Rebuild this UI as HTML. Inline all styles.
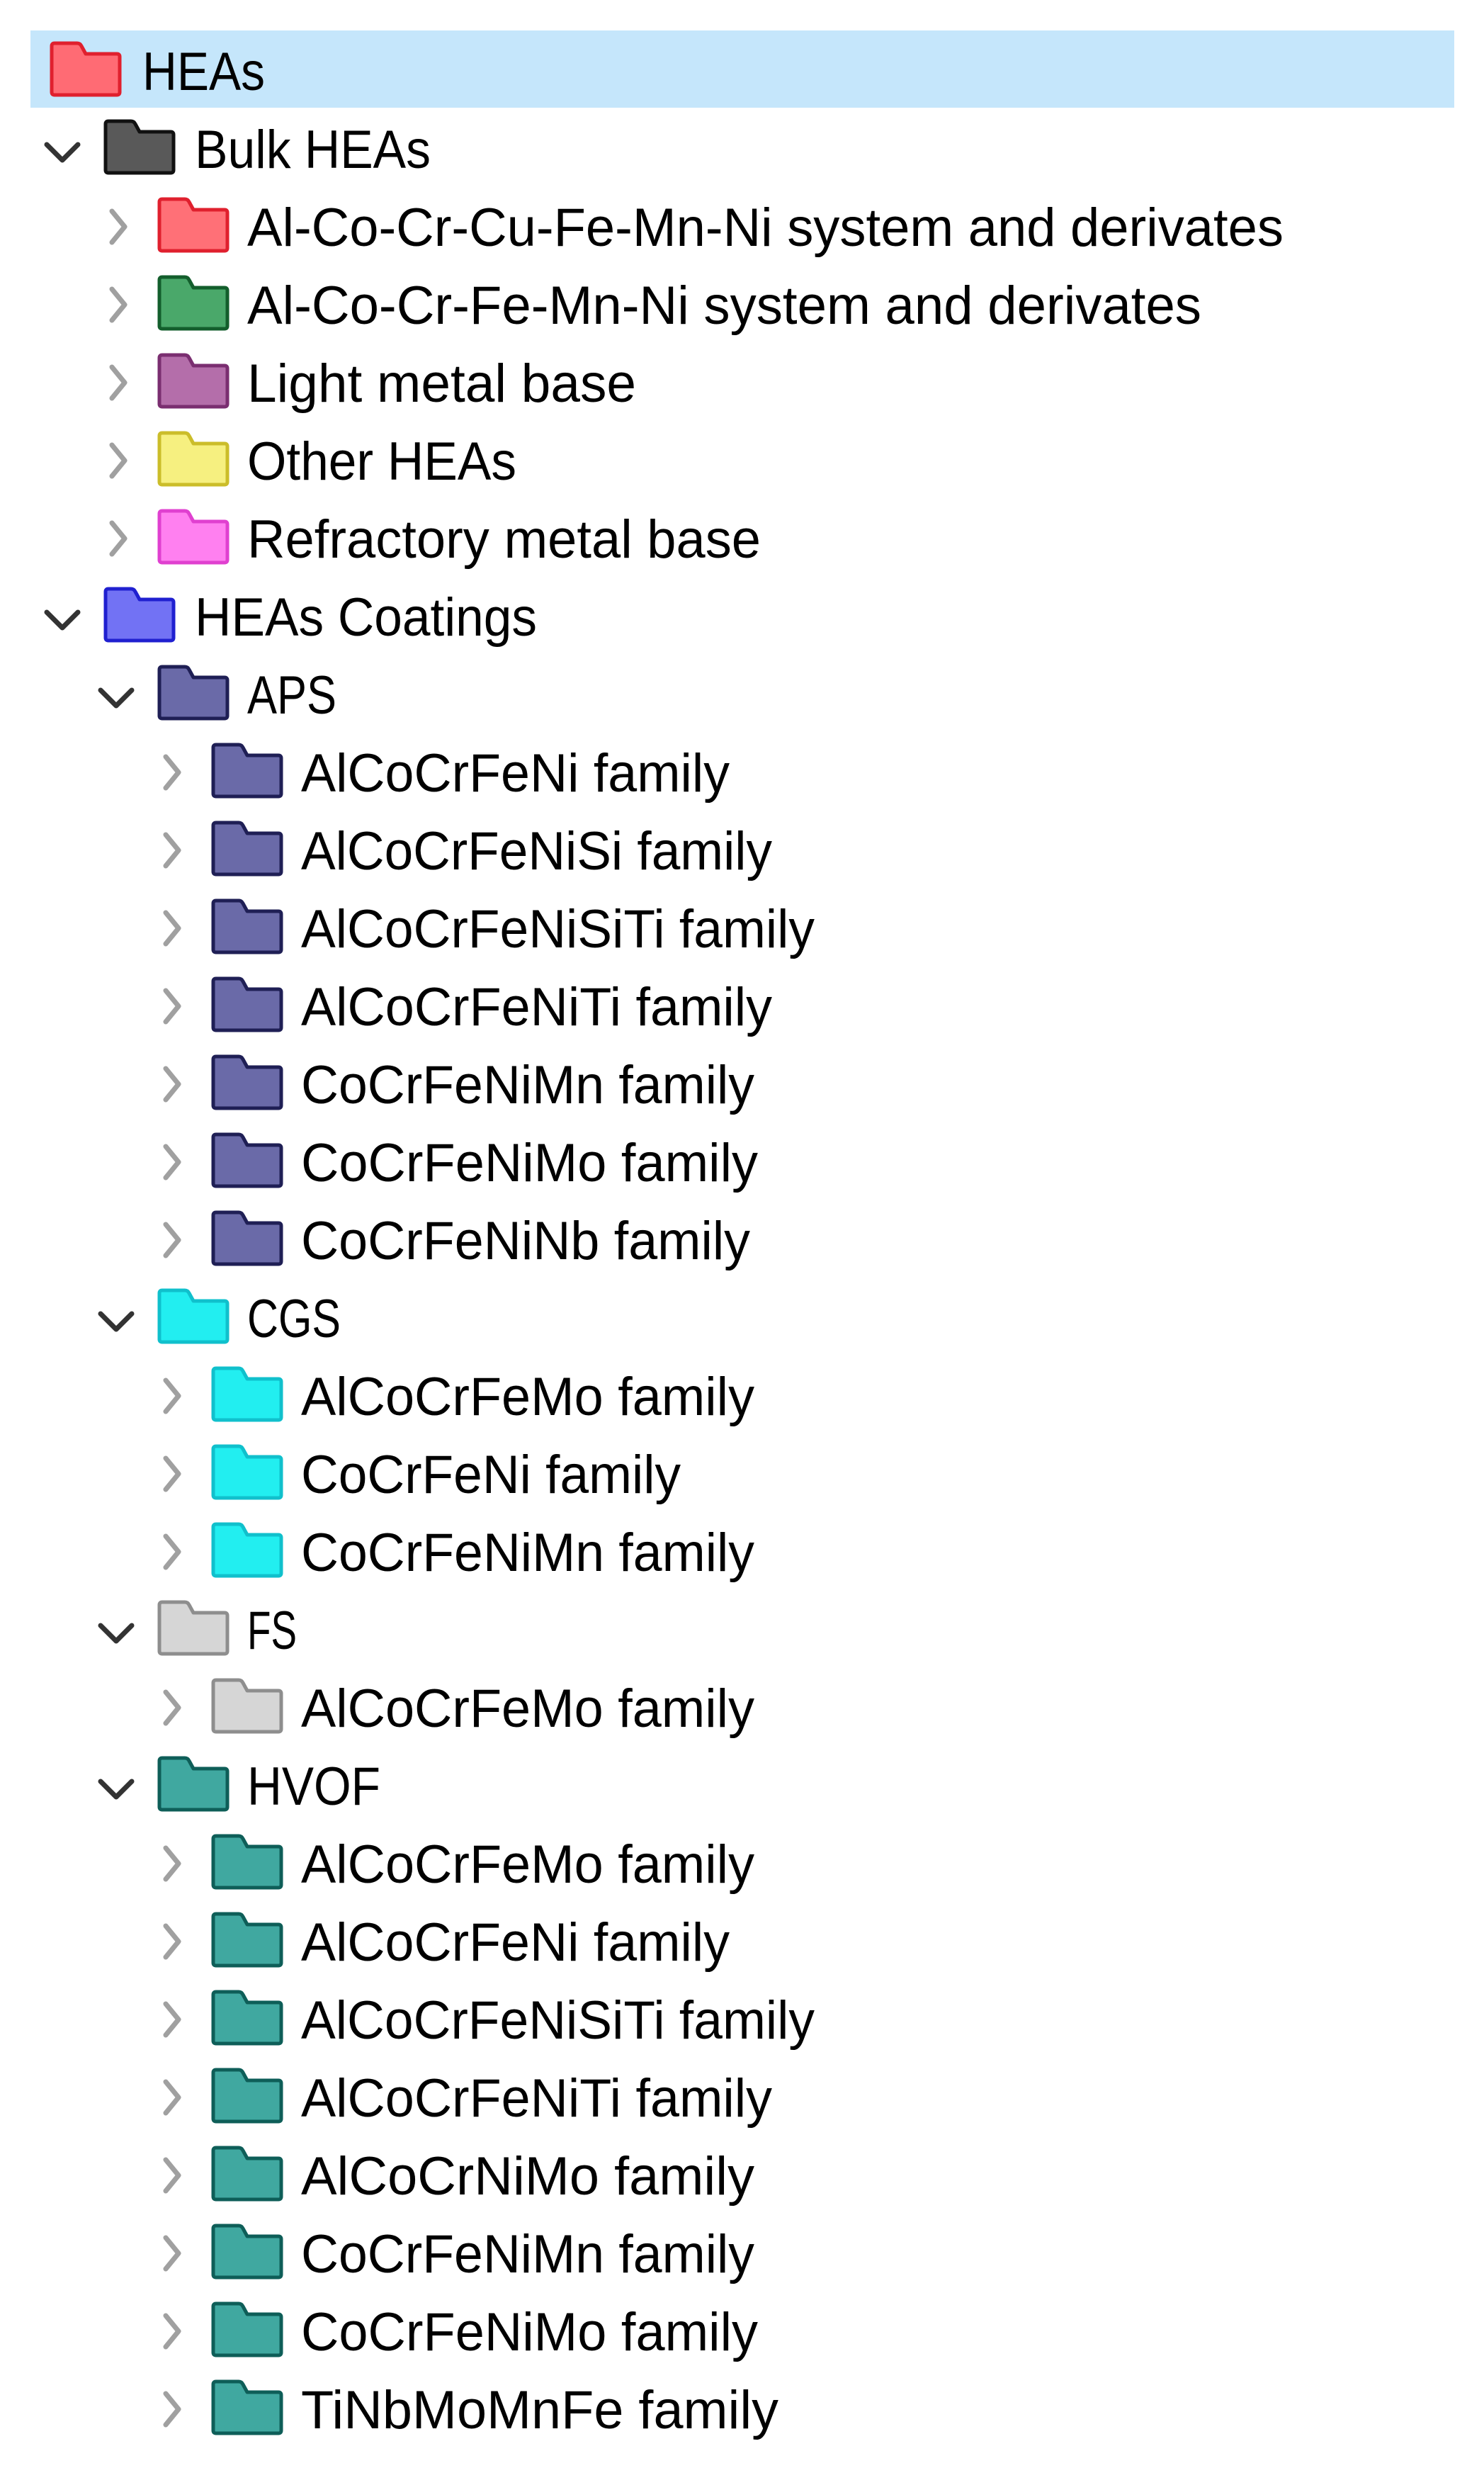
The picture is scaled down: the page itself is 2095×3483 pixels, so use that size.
<!DOCTYPE html>
<html><head><meta charset="utf-8"><style>html,body{margin:0;padding:0;background:#fff}svg{display:block}text{font-family:"Liberation Sans",sans-serif;font-size:76px;fill:#000}</style></head><body>
<svg width="2095" height="3483" viewBox="0 0 2095 3483" xmlns="http://www.w3.org/2000/svg">
<defs>
<path id="f" d="M6,2 H38 Q42,2 44,6 L50,17 H94 Q98,17 98,21 V71 Q98,75 94,75 H6 Q2,75 2,71 V6 Q2,2 6,2 Z" stroke-width="5" stroke-linejoin="round"/>
</defs>
<rect x="43" y="43" width="2010" height="109" fill="#c5e6fb"/>
<g fill="none" stroke="#333" stroke-width="7" stroke-linecap="round" stroke-linejoin="round">
<polyline points="66,204 88,226 110,204"/>
<polyline points="66,864 88,886 110,864"/>
<polyline points="142,974 164,996 186,974"/>
<polyline points="142,1854 164,1876 186,1854"/>
<polyline points="142,2294 164,2316 186,2294"/>
<polyline points="142,2514 164,2536 186,2514"/>
</g>
<g fill="none" stroke="#a0a0a0" stroke-width="7" stroke-linecap="round" stroke-linejoin="round">
<polyline points="158,298 176,320 158,342"/>
<polyline points="158,408 176,430 158,452"/>
<polyline points="158,518 176,540 158,562"/>
<polyline points="158,628 176,650 158,672"/>
<polyline points="158,738 176,760 158,782"/>
<polyline points="234,1068 252,1090 234,1112"/>
<polyline points="234,1178 252,1200 234,1222"/>
<polyline points="234,1288 252,1310 234,1332"/>
<polyline points="234,1398 252,1420 234,1442"/>
<polyline points="234,1508 252,1530 234,1552"/>
<polyline points="234,1618 252,1640 234,1662"/>
<polyline points="234,1728 252,1750 234,1772"/>
<polyline points="234,1948 252,1970 234,1992"/>
<polyline points="234,2058 252,2080 234,2102"/>
<polyline points="234,2168 252,2190 234,2212"/>
<polyline points="234,2388 252,2410 234,2432"/>
<polyline points="234,2608 252,2630 234,2652"/>
<polyline points="234,2718 252,2740 234,2762"/>
<polyline points="234,2828 252,2850 234,2872"/>
<polyline points="234,2938 252,2960 234,2982"/>
<polyline points="234,3048 252,3070 234,3092"/>
<polyline points="234,3158 252,3180 234,3202"/>
<polyline points="234,3268 252,3290 234,3312"/>
<polyline points="234,3378 252,3400 234,3422"/>
</g>
<use href="#f" x="71" y="59" fill="#ff6b74" stroke="#e0202e"/>
<use href="#f" x="147" y="169" fill="#595959" stroke="#111"/>
<use href="#f" x="223" y="279" fill="#ff7077" stroke="#e0202e"/>
<use href="#f" x="223" y="389" fill="#4aa86a" stroke="#135e2c"/>
<use href="#f" x="223" y="499" fill="#b46eaa" stroke="#7a2e70"/>
<use href="#f" x="223" y="609" fill="#f6f080" stroke="#cbbd2a"/>
<use href="#f" x="223" y="719" fill="#ff80f0" stroke="#e040d0"/>
<use href="#f" x="147" y="829" fill="#7272f4" stroke="#2020d0"/>
<use href="#f" x="223" y="939" fill="#6a6aa8" stroke="#1f1f55"/>
<use href="#f" x="299" y="1049" fill="#6a6aa8" stroke="#1f1f55"/>
<use href="#f" x="299" y="1159" fill="#6a6aa8" stroke="#1f1f55"/>
<use href="#f" x="299" y="1269" fill="#6a6aa8" stroke="#1f1f55"/>
<use href="#f" x="299" y="1379" fill="#6a6aa8" stroke="#1f1f55"/>
<use href="#f" x="299" y="1489" fill="#6a6aa8" stroke="#1f1f55"/>
<use href="#f" x="299" y="1599" fill="#6a6aa8" stroke="#1f1f55"/>
<use href="#f" x="299" y="1709" fill="#6a6aa8" stroke="#1f1f55"/>
<use href="#f" x="223" y="1819" fill="#22eef0" stroke="#10c0cc"/>
<use href="#f" x="299" y="1929" fill="#22eef0" stroke="#10c0cc"/>
<use href="#f" x="299" y="2039" fill="#22eef0" stroke="#10c0cc"/>
<use href="#f" x="299" y="2149" fill="#22eef0" stroke="#10c0cc"/>
<use href="#f" x="223" y="2259" fill="#d6d6d6" stroke="#8e8e8e"/>
<use href="#f" x="299" y="2369" fill="#d6d6d6" stroke="#8e8e8e"/>
<use href="#f" x="223" y="2479" fill="#40a8a0" stroke="#0e5e58"/>
<use href="#f" x="299" y="2589" fill="#40a8a0" stroke="#0e5e58"/>
<use href="#f" x="299" y="2699" fill="#40a8a0" stroke="#0e5e58"/>
<use href="#f" x="299" y="2809" fill="#40a8a0" stroke="#0e5e58"/>
<use href="#f" x="299" y="2919" fill="#40a8a0" stroke="#0e5e58"/>
<use href="#f" x="299" y="3029" fill="#40a8a0" stroke="#0e5e58"/>
<use href="#f" x="299" y="3139" fill="#40a8a0" stroke="#0e5e58"/>
<use href="#f" x="299" y="3249" fill="#40a8a0" stroke="#0e5e58"/>
<use href="#f" x="299" y="3359" fill="#40a8a0" stroke="#0e5e58"/>
<g>
<text x="201" y="127" textLength="173" lengthAdjust="spacingAndGlyphs">HEAs</text>
<text x="275" y="237" textLength="333" lengthAdjust="spacingAndGlyphs">Bulk HEAs</text>
<text x="349" y="347" textLength="1463" lengthAdjust="spacingAndGlyphs">Al-Co-Cr-Cu-Fe-Mn-Ni system and derivates</text>
<text x="349" y="457" textLength="1347" lengthAdjust="spacingAndGlyphs">Al-Co-Cr-Fe-Mn-Ni system and derivates</text>
<text x="349" y="567" textLength="549" lengthAdjust="spacingAndGlyphs">Light metal base</text>
<text x="349" y="677" textLength="380" lengthAdjust="spacingAndGlyphs">Other HEAs</text>
<text x="349" y="787" textLength="725" lengthAdjust="spacingAndGlyphs">Refractory metal base</text>
<text x="275" y="897" textLength="483" lengthAdjust="spacingAndGlyphs">HEAs Coatings</text>
<text x="349" y="1007" textLength="126" lengthAdjust="spacingAndGlyphs">APS</text>
<text x="425" y="1117" textLength="605" lengthAdjust="spacingAndGlyphs">AlCoCrFeNi family</text>
<text x="425" y="1227" textLength="665" lengthAdjust="spacingAndGlyphs">AlCoCrFeNiSi family</text>
<text x="425" y="1337" textLength="725" lengthAdjust="spacingAndGlyphs">AlCoCrFeNiSiTi family</text>
<text x="425" y="1447" textLength="665" lengthAdjust="spacingAndGlyphs">AlCoCrFeNiTi family</text>
<text x="425" y="1557" textLength="640" lengthAdjust="spacingAndGlyphs">CoCrFeNiMn family</text>
<text x="425" y="1667" textLength="645" lengthAdjust="spacingAndGlyphs">CoCrFeNiMo family</text>
<text x="425" y="1777" textLength="634" lengthAdjust="spacingAndGlyphs">CoCrFeNiNb family</text>
<text x="349" y="1887" textLength="132" lengthAdjust="spacingAndGlyphs">CGS</text>
<text x="425" y="1997" textLength="640" lengthAdjust="spacingAndGlyphs">AlCoCrFeMo family</text>
<text x="425" y="2107" textLength="536" lengthAdjust="spacingAndGlyphs">CoCrFeNi family</text>
<text x="425" y="2217" textLength="640" lengthAdjust="spacingAndGlyphs">CoCrFeNiMn family</text>
<text x="349" y="2327" textLength="70" lengthAdjust="spacingAndGlyphs">FS</text>
<text x="425" y="2437" textLength="640" lengthAdjust="spacingAndGlyphs">AlCoCrFeMo family</text>
<text x="349" y="2547" textLength="188" lengthAdjust="spacingAndGlyphs">HVOF</text>
<text x="425" y="2657" textLength="640" lengthAdjust="spacingAndGlyphs">AlCoCrFeMo family</text>
<text x="425" y="2767" textLength="605" lengthAdjust="spacingAndGlyphs">AlCoCrFeNi family</text>
<text x="425" y="2877" textLength="725" lengthAdjust="spacingAndGlyphs">AlCoCrFeNiSiTi family</text>
<text x="425" y="2987" textLength="665" lengthAdjust="spacingAndGlyphs">AlCoCrFeNiTi family</text>
<text x="425" y="3097" textLength="640" lengthAdjust="spacingAndGlyphs">AlCoCrNiMo family</text>
<text x="425" y="3207" textLength="640" lengthAdjust="spacingAndGlyphs">CoCrFeNiMn family</text>
<text x="425" y="3317" textLength="645" lengthAdjust="spacingAndGlyphs">CoCrFeNiMo family</text>
<text x="425" y="3427" textLength="674" lengthAdjust="spacingAndGlyphs">TiNbMoMnFe family</text>
</g>
</svg>
</body></html>
